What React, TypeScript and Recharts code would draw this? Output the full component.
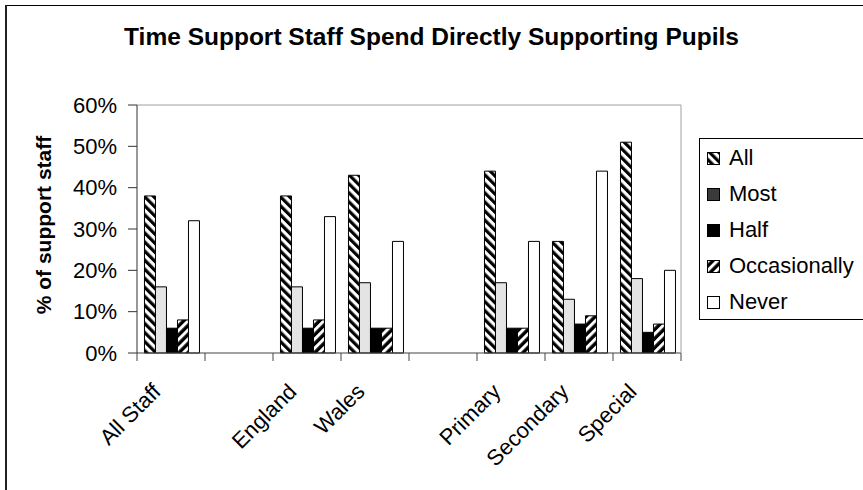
import { Bar, BarChart, XAxis, YAxis } from "recharts";

const FONT = '"Liberation Sans", Arial, sans-serif';

const categories = ["All Staff", "", "England", "Wales", "", "Primary", "Secondary", "Special"];
const allValues = [38, null, 38, 43, null, 44, 27, 51];
const mostValues = [16, null, 16, 17, null, 17, 13, 18];
const halfValues = [6, null, 6, 6, null, 6, 7, 5];
const occasionallyValues = [8, null, 8, 6, null, 6, 9, 7];
const neverValues = [32, null, 33, 27, null, 27, 44, 20];
const yTicks = [0, 10, 20, 30, 40, 50, 60];

const series = [
  { key: "all", name: "All", fill: "url(#stripesDown)", legendFill: "url(#stripesDown)" },
  { key: "most", name: "Most", fill: "#e4e4e4", legendFill: "#3a3a3a" },
  { key: "half", name: "Half", fill: "#000000", legendFill: "#000000" },
  { key: "occasionally", name: "Occasionally", fill: "url(#stripesUp)", legendFill: "url(#stripesUp)" },
  { key: "never", name: "Never", fill: "#ffffff", legendFill: "#ffffff" },
];

const data = categories.map((name, i) => ({
  name,
  all: allValues[i],
  most: mostValues[i],
  half: halfValues[i],
  occasionally: occasionallyValues[i],
  never: neverValues[i],
}));

// category labels sit at 45 degrees; tick marks go on the band edges, not the centres
function CategoryTick(props: any) {
  const { x, y, payload, index, visibleTicksCount } = props;
  const half = payload?.offset || 34;
  const tx = x - 9;
  const ty = y + 40;
  const isLast = index === (visibleTicksCount ?? categories.length) - 1;
  return (
    <g>
      <line x1={x - half} x2={x - half} y1={y} y2={y + 8} stroke="#444" />
      {isLast && <line x1={x + half} x2={x + half} y1={y} y2={y + 8} stroke="#444" />}
      {payload.value && (
        <text
          x={tx}
          y={ty}
          transform={`rotate(-45 ${tx} ${ty})`}
          textAnchor="end"
          fontSize={22}
          fontFamily={FONT}
          fill="#000"
        >
          {payload.value}
        </text>
      )}
    </g>
  );
}

function AxisTitle() {
  return (
    <text
      x={43}
      y={225}
      transform="rotate(-90 43 225)"
      textAnchor="middle"
      dominantBaseline="central"
      fontSize={21}
      fontWeight="bold"
      fontFamily={FONT}
      fill="#000"
    >
      % of support staff
    </text>
  );
}

export default function App() {
  return (
    <div
      style={{
        position: "absolute",
        left: 0,
        top: 0,
        width: 863,
        height: 490,
        overflow: "hidden",
        background: "#fff",
        fontFamily: FONT,
      }}
    >
      <svg width={0} height={0} style={{ position: "absolute" }}>
        <defs>
          <pattern id="stripesDown" patternUnits="userSpaceOnUse" width={6.4} height={6.4} patternTransform="rotate(-45)">
            <rect width={6.4} height={6.4} fill="#fff" />
            <rect width={3.2} height={6.4} fill="#000" />
          </pattern>
          <pattern id="stripesUp" patternUnits="userSpaceOnUse" width={6.4} height={6.4} patternTransform="rotate(45)">
            <rect width={6.4} height={6.4} fill="#000" />
            <rect width={3} height={6.4} fill="#fff" />
          </pattern>
        </defs>
      </svg>

      <div
        style={{
          position: "absolute",
          left: 0,
          top: 25,
          width: 863,
          textAlign: "center",
          fontSize: 24.5,
          lineHeight: "24px",
          fontWeight: "bold",
          color: "#000",
        }}
      >
        Time Support Staff Spend Directly Supporting Pupils
      </div>

      <div style={{ position: "absolute", left: 0, top: 0 }}>
        <BarChart
          width={863}
          height={490}
          data={data}
          margin={{ top: 104, right: 181, bottom: 136, left: 0 }}
          barCategoryGap="11%"
          barGap={0}
        >
          <XAxis
            dataKey="name"
            height={1}
            interval={0}
            tickSize={0}
            tickMargin={0}
            tickLine={false}
            axisLine={{ stroke: "#444" }}
            tick={<CategoryTick />}
          />
          <XAxis xAxisId="top" orientation="top" dataKey="name" height={1} tick={false} tickLine={false} axisLine={{ stroke: "#a0a0a0" }} />
          <YAxis
            domain={[0, 60]}
            ticks={yTicks}
            interval={0}
            width={137}
            tickSize={9}
            tickMargin={11}
            tickFormatter={(v) => `${v}%`}
            axisLine={{ stroke: "#333" }}
            tickLine={{ stroke: "#333" }}
            tick={{ fill: "#000", fontSize: 22, fontFamily: FONT }}
            label={{ content: () => <AxisTitle /> }}
          />
          <YAxis yAxisId="right" orientation="right" width={1} tick={false} tickLine={false} axisLine={{ stroke: "#a0a0a0" }} />
          {series.map((s) => (
            <Bar
              key={s.key}
              dataKey={s.key}
              name={s.name}
              fill={s.fill}
              stroke="#000"
              strokeWidth={1}
              isAnimationActive={false}
            />
          ))}
        </BarChart>
      </div>

      <div
        style={{
          position: "absolute",
          left: 699,
          top: 138,
          width: 200,
          height: 182,
          border: "1px solid #000",
          boxSizing: "border-box",
          paddingTop: 1,
          background: "#fff",
        }}
      >
        {series.map((s) => (
          <div key={s.key} style={{ display: "flex", alignItems: "center", height: 36 }}>
            <svg width={13} height={13} style={{ marginLeft: 7 }}>
              <rect x={0.5} y={0.5} width={12} height={12} fill={s.legendFill} stroke="#000" />
            </svg>
            <span style={{ marginLeft: 9, fontSize: 22, lineHeight: "22px", color: "#000" }}>{s.name}</span>
          </div>
        ))}
      </div>

      {/* outer frame: only the top and left edges fall inside the view */}
      <svg width={863} height={490} style={{ position: "absolute", left: 0, top: 0, pointerEvents: "none" }}>
        <line x1={6} x2={863} y1={5.5} y2={5.5} stroke="#000" />
        <line x1={6} x2={6} y1={5} y2={490} stroke="#222" strokeWidth={2} />
      </svg>
    </div>
  );
}
